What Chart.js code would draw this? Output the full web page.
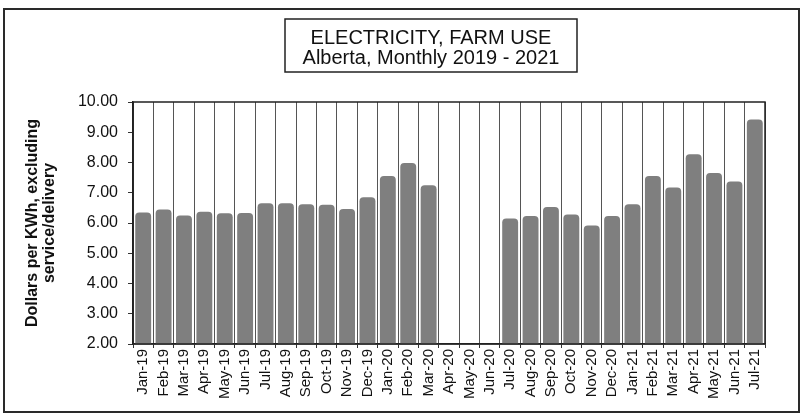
<!DOCTYPE html>
<html>
<head>
<meta charset="utf-8">
<script src="https://cdn.jsdelivr.net/npm/chart.js@4"></script>
<style>
html,body{margin:0;padding:0;background:#fff;}
#wrap{width:802px;height:415px;position:relative;}
</style>
</head>
<body>
<div id="wrap"><canvas id="c" width="802" height="415"></canvas></div>
<script>
const categories = ["Jan-19","Feb-19","Mar-19","Apr-19","May-19","Jun-19","Jul-19","Aug-19","Sep-19","Oct-19","Nov-19","Dec-19",
  "Jan-20","Feb-20","Mar-20","Apr-20","May-20","Jun-20","Jul-20","Aug-20","Sep-20","Oct-20","Nov-20","Dec-20",
  "Jan-21","Feb-21","Mar-21","Apr-21","May-21","Jun-21","Jul-21"];
const prices = [6.35,6.45,6.25,6.37,6.32,6.33,6.65,6.65,6.62,6.60,6.46,6.85,
  7.55,7.98,7.25,null,null,null,6.15,6.23,6.53,6.28,5.92,6.23,
  6.62,7.55,7.17,8.27,7.65,7.37,9.42];
const titleLines = ["ELECTRICITY, FARM USE","Alberta, Monthly 2019 - 2021"];
const yTitle = ["Dollars per KWh, excluding","service/delivery"];
const yMin = 2, yMax = 10, yStep = 1;

const FONT = "'Liberation Sans', Arial, Helvetica, sans-serif";

const framePlugin = {
  id: 'framePlugin',
  beforeDraw(chart) {
    const ctx = chart.ctx;
    ctx.save();
    ctx.fillStyle = '#fff';
    ctx.fillRect(0, 0, chart.width, chart.height);
    ctx.restore();
  },
  afterDraw(chart) {
    const ctx = chart.ctx;
    const a = chart.chartArea;
    ctx.save();
    // outer frame
    ctx.strokeStyle = '#2a2a2a';
    ctx.lineWidth = 2;
    ctx.strokeRect(4, 9, 795, 403);
    // plot frame
    ctx.lineWidth = 1.5;
    ctx.strokeStyle = '#222';
    ctx.strokeRect(a.left, a.top, a.right - a.left, a.bottom - a.top);
    // title box + text
    ctx.lineWidth = 1.5;
    ctx.strokeStyle = '#222';
    ctx.strokeRect(285, 19, 292, 53);
    ctx.fillStyle = '#111';
    ctx.font = '20px ' + FONT;
    ctx.textAlign = 'center';
    ctx.textBaseline = 'middle';
    ctx.fillText(titleLines[0], 431, 38);
    ctx.fillText(titleLines[1], 431, 58);
    ctx.restore();
  }
};

new Chart(document.getElementById('c'), {
  type: 'bar',
  data: {
    labels: categories,
    datasets: [{
      data: prices,
      backgroundColor: '#7f7f7f',
      borderWidth: 0,
      borderRadius: {topLeft: 4, topRight: 4, bottomLeft: 0, bottomRight: 0},
      borderSkipped: 'bottom',
      barPercentage: 0.78,
      categoryPercentage: 1.0
    }]
  },
  options: {
    responsive: false,
    animation: false,
    devicePixelRatio: 1,
    layout: { padding: { left: 3, right: 37, top: 102, bottom: 5 } },
    plugins: {
      legend: { display: false },
      title: { display: false },
      tooltip: { enabled: false }
    },
    scales: {
      x: {
        offset: true,
        grid: {
          display: true,
          offset: true,
          color: '#555',
          lineWidth: 1,
          drawOnChartArea: true,
          drawTicks: true,
          tickLength: 4,
          tickColor: '#333'
        },
        border: { display: true, color: '#222', width: 1.5 },
        ticks: {
          autoSkip: false,
          maxRotation: 90,
          minRotation: 90,
          padding: 1,
          color: '#111',
          font: { family: FONT, size: 15 }
        },
        afterFit(scale) { scale.height = 66; }
      },
      y: {
        min: yMin,
        max: yMax,
        grid: {
          display: true,
          drawOnChartArea: false,
          drawTicks: true,
          tickLength: 5,
          tickColor: '#333'
        },
        border: { display: true, color: '#222', width: 1.5 },
        ticks: {
          stepSize: yStep,
          padding: 10,
          color: '#111',
          font: { family: FONT, size: 16 },
          callback: (v) => Number(v).toFixed(2)
        },
        title: {
          display: true,
          text: yTitle,
          color: '#111',
          font: { family: FONT, size: 16, weight: 'bold', lineHeight: 1.0625 },
          padding: { top: 21.5, bottom: 0 }
        },
        afterFit(scale) { scale.width = 130; }
      }
    }
  },
  plugins: [framePlugin]
});
</script>
</body>
</html>
